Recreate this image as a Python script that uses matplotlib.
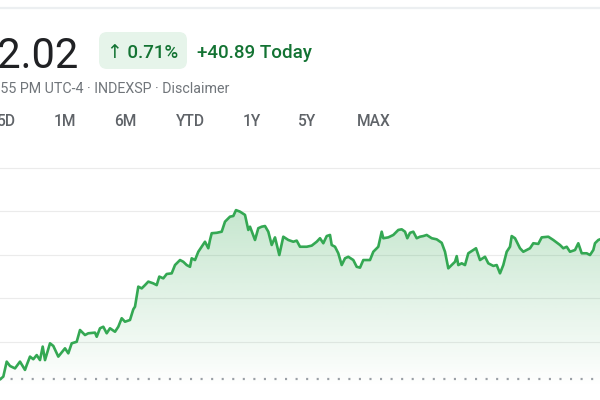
import numpy as np
import matplotlib
matplotlib.use("Agg")
import matplotlib.pyplot as plt
from matplotlib.patches import FancyBboxPatch
from matplotlib.lines import Line2D

plt.rcParams['font.family'] = ['Roboto', 'DejaVu Sans']
plt.rcParams['lines.scale_dashes'] = False

# time index (sessions, left to right) and index level
t = [0, 3.3, 6.7, 10, 15, 20, 25, 26.7, 30, 33.3, 36.7, 40, 42.7, 45, 50, 53.3,
     58.3, 65, 68.3, 71.7, 76.7, 80, 85, 88.3, 95, 96.7, 100, 103.3, 106.7, 110,
     115, 118.3, 121.7, 125, 130, 133.3, 135, 138.3, 141.7, 145, 148.3, 153.3,
     156.7, 159.3, 163.3, 166.7, 171.7, 175, 180, 183.3, 186.7, 190, 191.7, 195,
     198.3, 201.7, 205, 208.3, 210, 211.7, 216.7, 221.7, 225, 230, 233.3, 236,
     240, 245, 248.3, 250, 255, 258.3, 261.7, 265, 268.3, 271.7, 275, 279.3,
     283.3, 288.3, 293.3, 296.7,
     300, 306.7, 311.7, 316.7, 320, 323.3, 326.7, 330, 331.7, 335, 338.3, 341.7,
     345, 348.3, 353.3, 356.7, 360, 363.3, 370, 373.3, 378.3, 381.7, 383.3,
     388.3, 393.3, 398.3, 401.7, 405, 407.3, 410, 413.3, 416.7, 420, 423.3,
     426.7, 431.7, 436.7, 441.7, 445, 448.3, 451.7, 455, 456.7, 458.3, 461.7,
     465, 468.3, 473.3, 476, 480, 485, 488.3, 493.3, 496.7, 500, 503.3, 506.7,
     510, 511.7, 515, 520, 523.3, 530, 533.3, 538.3, 541.7, 548.3, 553.3, 560,
     563.3, 566.7, 570, 575, 578.3, 581.7, 586.7, 590, 593.3, 595, 598.3, 600]
price = [4629, 4641, 4710, 4690, 4679, 4710, 4672, 4694, 4733, 4721, 4740, 4717,
         4779, 4717, 4794, 4782, 4733, 4771, 4748, 4794, 4801, 4855, 4832, 4840,
         4843, 4824, 4863, 4870, 4840, 4863, 4847, 4870, 4909, 4893, 4901, 4950,
         4962, 5054, 5046, 5061, 5077, 5069, 5061, 5100, 5092, 5112, 5115, 5153,
         5176, 5168, 5153, 5145, 5184, 5176, 5214, 5237, 5260, 5230, 5268, 5299,
         5301, 5306, 5352, 5375, 5378, 5405, 5398, 5383, 5314, 5329, 5268, 5322,
         5329, 5332, 5306, 5245, 5280, 5199, 5283, 5268, 5260, 5265,
         5237, 5237, 5242, 5260, 5276, 5253, 5286, 5291, 5245, 5237, 5207, 5153,
         5184, 5191, 5176, 5145, 5141, 5176, 5176, 5214, 5237, 5306, 5276, 5280,
         5291, 5314, 5317, 5306, 5276, 5301, 5306, 5276, 5283, 5286, 5291, 5276,
         5271, 5255, 5214, 5138, 5153, 5168, 5194, 5153, 5161, 5153, 5207, 5222,
         5230, 5176, 5191, 5161, 5149, 5153, 5115, 5153, 5214, 5237, 5286, 5276,
         5230, 5214, 5230, 5253, 5250, 5280, 5283, 5268, 5245, 5230, 5237, 5214,
         5222, 5253, 5207, 5207, 5199, 5222, 5253, 5268, 5271]
grid_levels = [4800, 5000, 5200, 5400, 5600]
start_level = 4629
tabs = ["5D", "1M", "6M", "YTD", "1Y", "5Y", "MAX"]
tab_x = [6, 65, 125, 190, 252, 307, 374]

GREEN = "#34a853"
W, H = 600, 400

fig = plt.figure(figsize=(6, 4), dpi=100)
fig.patch.set_facecolor("white")


def fx(px):
    return px / W


def fy(py):
    return 1 - py / H


# top separator
fig.add_artist(Line2D([0, 1], [fy(8), fy(8)], transform=fig.transFigure,
                      color="#eceff1", lw=1.6))

# header texts
fig.text(fx(79), fy(67), "5,752.02", ha="right", va="baseline",
         fontsize=30, color="#202124")
pill = FancyBboxPatch((0.99, (H - 69) / 100), 0.88, 0.37,
                      boxstyle="round,pad=0,rounding_size=0.08",
                      transform=fig.dpi_scale_trans, facecolor="#e6f4ea",
                      edgecolor="none")
fig.add_artist(pill)
fig.text(fx(143), fy(58), "↑ 0.71%", ha="center", va="baseline",
         fontsize=13.5, color="#137333", fontweight="medium")
fig.text(fx(197), fy(58), "+40.89 Today", ha="left", va="baseline",
         fontsize=13.5, color="#137333", fontweight="medium")
fig.text(fx(229), fy(93), "4:55 PM UTC-4 · INDEXSP · Disclaimer", ha="right",
         va="baseline", fontsize=10.3, color="#70757a")
for label, x in zip(tabs, tab_x):
    fig.text(fx(x), fy(126), label, ha="center", va="baseline", fontsize=11.2,
             color="#5f6368", fontweight="medium")

# chart area
ax = fig.add_axes([0, fy(387), 1, fy(160) - fy(387)])
ax.set_xlim(0, 600)
ax.set_ylim(4593.6, 5634.9)
ax.axis("off")

for g in grid_levels:
    ax.axhline(g, color="#ebebeb", lw=0.8, zorder=0)

# gradient fill under the line
top = max(price)
grad = np.zeros((256, 1, 4))
rgb = matplotlib.colors.to_rgb(GREEN)
grad[:, 0, :3] = rgb
grad[:, 0, 3] = np.linspace(0.28, 0.0, 256)
im = ax.imshow(grad, aspect="auto", extent=[0, 600, 4593.6, top],
               origin="upper", zorder=1)
poly = ax.fill_between(t, price, 4593.6, facecolor="none", edgecolor="none")
im.set_clip_path(poly.get_paths()[0], transform=ax.transData)

ax.axhline(start_level, color="#9aa0a6", lw=1.6, dashes=(1.5, 6.1), zorder=2)
ax.plot(t, price, color=GREEN, lw=1.9, zorder=3, solid_joinstyle="round")

fig.savefig("out.png", dpi=100)
